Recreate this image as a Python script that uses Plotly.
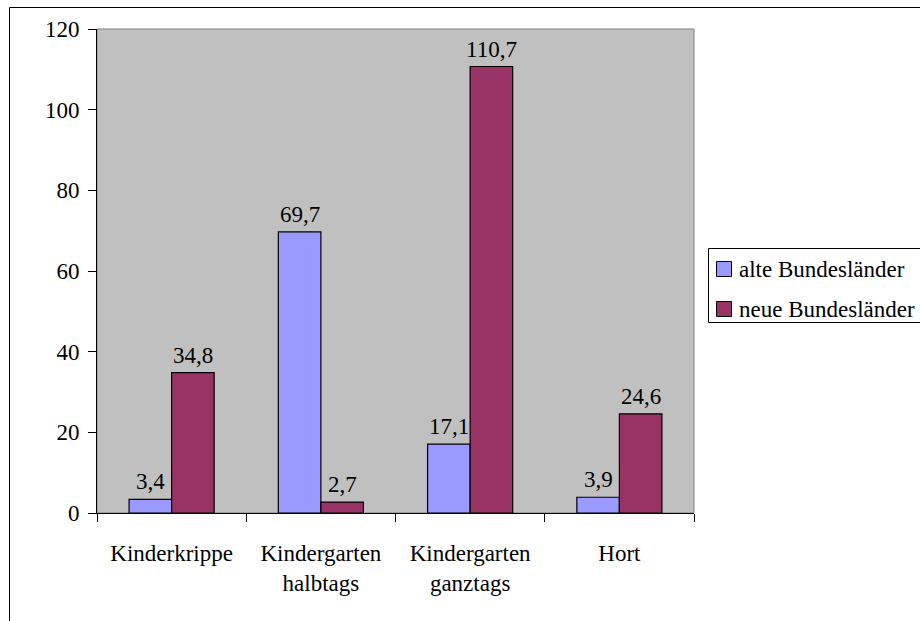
import plotly.graph_objects as go

categories = ["Kinderkrippe", "Kindergarten<br>halbtags", "Kindergarten<br>ganztags", "Hort"]
alte = [3.4, 69.7, 17.1, 3.9]
neue = [34.8, 2.7, 110.7, 24.6]
series_names = ["alte Bundesländer", "neue Bundesländer"]
colors = ["#9999FF", "#993366"]
y_ticks = [0, 20, 40, 60, 80, 100, 120]

FONT = "Liberation Serif, Times New Roman, serif"
FS = 23

W, H = 920, 621
L, R, T, B = 97, 226, 29, 108
pw, ph = W - L - R, H - T - B
BAR_PX = 42.5  # bar width in px, used to centre labels over grouped bars


def px_x(x):
    return (x - L) / pw


def px_y(y):
    return (H - B - y) / ph


def fmt(v):
    return f"{v:.1f}".replace(".", ",")


fig = go.Figure()
for name, vals, col in zip(series_names, [alte, neue], colors):
    fig.add_trace(go.Bar(
        x=categories, y=vals, name=name,
        marker=dict(color=col, line=dict(color="black", width=1.2)),
        showlegend=False, hoverinfo="x+y+name",
    ))

annotations = []
for si, vals in enumerate([alte, neue]):
    shift = (-0.5 if si == 0 else 0.5) * BAR_PX
    for c, v in zip(categories, vals):
        annotations.append(dict(
            x=c, y=v, xref="x", yref="y", text=fmt(v), showarrow=False,
            xanchor="center", yanchor="bottom", xshift=shift, yshift=3,
            font=dict(family=FONT, size=FS, color="black"),
        ))

shapes = [
    dict(type="rect", xref="paper", yref="paper", x0=0, x1=1, y0=0, y1=1,
         line=dict(color="#808080", width=1), layer="below"),
    dict(type="line", xref="paper", yref="paper",
         x0=px_x(9.5), x1=px_x(9.5), y0=px_y(7.5), y1=px_y(640),
         line=dict(color="black", width=1)),
    dict(type="line", xref="paper", yref="paper",
         x0=px_x(9.5), x1=px_x(940), y0=px_y(7.5), y1=px_y(7.5),
         line=dict(color="black", width=1)),
    # legend box
    dict(type="rect", xref="paper", yref="paper",
         x0=px_x(708.5), x1=px_x(940), y0=px_y(248.5), y1=px_y(322.5),
         line=dict(color="black", width=1), fillcolor="white"),
]
legend_rows = [269, 309]
for name, col, yc in zip(series_names, colors, legend_rows):
    shapes.append(dict(type="rect", xref="paper", yref="paper",
                       x0=px_x(716.5), x1=px_x(731.5), y0=px_y(yc - 7.5), y1=px_y(yc + 7.5),
                       line=dict(color="black", width=1), fillcolor=col))
    annotations.append(dict(
        x=px_x(737), y=px_y(yc), xref="paper", yref="paper", text=name,
        showarrow=False, xanchor="left", yanchor="middle",
        font=dict(family=FONT, size=FS, color="black"),
    ))

fig.update_layout(
    width=W, height=H,
    margin=dict(l=L, r=R, t=T, b=B, pad=0),
    paper_bgcolor="white", plot_bgcolor="#C0C0C0",
    font=dict(family=FONT, size=FS, color="black"),
    barmode="group", bargap=0.43, bargroupgap=0,
    showlegend=False,
    shapes=shapes,
    annotations=annotations,
)

fig.update_yaxes(
    range=[0, 120], tickvals=y_ticks, ticktext=[str(v) for v in y_ticks],
    showgrid=False, zeroline=False,
    showline=True, linecolor="black", linewidth=1,
    ticks="outside", ticklen=8, tickcolor="black", tickwidth=1,
    tickfont=dict(family=FONT, size=FS, color="black"),
    ticklabelstandoff=4,
)
fig.update_xaxes(
    showgrid=False, showline=True, linecolor="black", linewidth=1,
    ticks="outside", ticklen=8, tickcolor="black", tickwidth=1,
    tickson="boundaries",
    tickfont=dict(family=FONT, size=FS, color="black"),
    ticklabelstandoff=19,
)

fig.write_html("out.html", config={"displayModeBar": False},
               post_script="document.body.style.margin='0';")
